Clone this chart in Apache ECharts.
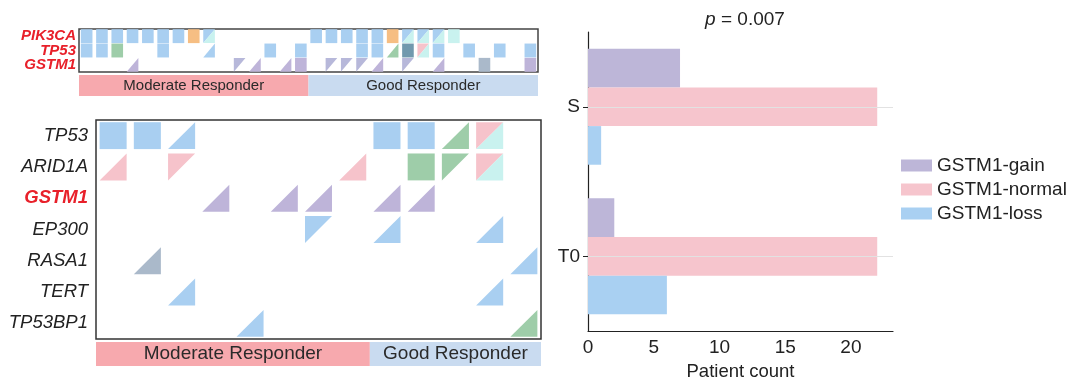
<!DOCTYPE html>
<html><head><meta charset="utf-8">
<script src="https://cdn.jsdelivr.net/npm/echarts@6/dist/echarts.min.js"></script>
<style>html,body{margin:0;padding:0;background:#fff}#c{width:1080px;height:386px}</style>
</head><body><div id="c"></div>
<script>
const FONT = '"Liberation Sans", Arial, Helvetica, sans-serif';

// ---------- DATA ----------
const topGenes = ['PIK3CA', 'TP53', 'GSTM1'];
const topSamples = ['1','2','3','4','5','6','7','8','9','10','11','12','13','14','15','16','17','18','19','20','21','22','23','24','25','26','27','28','29','30'];
// [sampleIndex, geneIndex, shape (F full / L lower-right / U upper-left), colour key]
const topCells = [
  [0,0,'F','blue'],[0,1,'F','blue'],
  [1,0,'F','blue'],[1,1,'F','blue'],
  [2,0,'F','blue'],[2,1,'F','green'],
  [3,0,'F','blue'],[3,2,'L','purple'],
  [4,0,'F','blue'],
  [5,0,'F','blue'],[5,1,'F','blue'],
  [6,0,'F','blue'],
  [7,0,'F','orange'],
  [8,0,'U','blue'],[8,0,'L','cyan'],[8,1,'L','blue'],
  [10,2,'U','lavender'],
  [11,2,'L','purple'],
  [12,1,'F','blue'],
  [13,2,'L','purple'],
  [14,1,'F','blue'],[14,2,'F','purple'],
  [15,0,'F','blue'],
  [16,0,'F','blue'],[16,2,'U','lavender'],
  [17,0,'F','blue'],[17,2,'U','lavender'],
  [18,0,'F','blue'],[18,1,'F','blue'],[18,2,'U','lavender'],
  [19,0,'F','blue'],[19,1,'F','blue'],[19,2,'L','purple'],
  [20,0,'F','orange'],[20,1,'L','green'],
  [21,0,'U','blue'],[21,0,'L','cyan'],[21,1,'F','steel'],[21,2,'U','lavender'],
  [22,0,'U','blue'],[22,0,'L','cyan'],[22,1,'U','pink'],[22,1,'L','cyan'],
  [23,0,'U','blue'],[23,0,'L','cyan'],[23,1,'F','blue'],[23,2,'L','purple'],
  [24,0,'F','cyan'],
  [25,1,'F','blue'],
  [26,2,'F','grayblue'],
  [27,1,'F','blue'],
  [29,1,'F','blue'],[29,2,'F','purple']
];
const topGroups = [['Moderate Responder', 0, 15], ['Good Responder', 15, 30]];

const bottomGenes = ['TP53', 'ARID1A', 'GSTM1', 'EP300', 'RASA1', 'TERT', 'TP53BP1'];
const bottomSamples = ['1','2','3','4','5','6','7','8','9','10','11','12','13'];
const bottomCells = [
  [0,0,'F','blue'],[1,0,'F','blue'],[2,0,'L','blue'],[8,0,'F','blue'],[9,0,'F','blue'],[10,0,'L','green'],[11,0,'U','pink'],[11,0,'L','cyan'],
  [0,1,'L','pink'],[2,1,'U','pink'],[7,1,'L','pink'],[9,1,'F','green'],[10,1,'U','green'],[11,1,'U','pink'],[11,1,'L','cyan'],
  [3,2,'L','purple'],[5,2,'L','purple'],[6,2,'L','purple'],[8,2,'L','purple'],[9,2,'L','purple'],
  [6,3,'U','blue'],[8,3,'L','blue'],[11,3,'L','blue'],
  [1,4,'L','grayblue'],[12,4,'L','blue'],
  [2,5,'L','blue'],[11,5,'L','blue'],
  [4,6,'L','blue'],[12,6,'L','green']
];
const bottomGroups = [['Moderate Responder', 0, 8], ['Good Responder', 8, 13]];

const timepoints = ['T0', 'S'];
const gainCounts = [2, 7];
const normalCounts = [22, 22];
const lossCounts = [6, 1];
const xTickValues = [0, 5, 10, 15, 20];

// ---------- STYLE ----------
const COLORS = {
  blue: '#A9CFF1', green: '#9ECDA9', pink: '#F6C3CB', cyan: '#C9F2EF',
  orange: '#F6BE83', purple: '#BEB4D9', lavender: '#B7B8DA', steel: '#7199AE',
  grayblue: '#AAB9CA'
};
const GROUP_COLORS = {'Moderate Responder': '#F7A9AE', 'Good Responder': '#C9DBF0'};
const RED = '#E8202A';

function cellRenderer(cells, wFrac, hFrac) {
  return function (params, api) {
    const cell = cells[params.dataIndex];
    const p = api.coord([api.value(0), api.value(1)]);
    const s = api.size([1, 1]);
    const w = s[0] * wFrac, h = s[1] * hFrac;
    const x0 = p[0] - w / 2, y0 = p[1] - h / 2;
    const fill = COLORS[cell[3]];
    if (cell[2] === 'F') {
      return {type: 'rect', shape: {x: x0, y: y0, width: w, height: h}, style: {fill: fill}};
    }
    const pts = cell[2] === 'L'
      ? [[x0, y0 + h], [x0 + w, y0 + h], [x0 + w, y0]]
      : [[x0, y0], [x0 + w, y0], [x0, y0 + h]];
    return {type: 'polygon', shape: {points: pts}, style: {fill: fill}};
  };
}
function groupRenderer(groups, fontSize) {
  return function (params, api) {
    const g = groups[params.dataIndex];
    const a = api.coord([api.value(0), 1]);
    const b = api.coord([api.value(1), 0]);
    return {type: 'group', children: [
      {type: 'rect', shape: {x: a[0], y: a[1], width: b[0] - a[0], height: b[1] - a[1]}, style: {fill: GROUP_COLORS[g[0]]}},
      {type: 'text', style: {text: g[0], x: (a[0] + b[0]) / 2, y: (a[1] + b[1]) / 2, align: 'center', verticalAlign: 'middle',
        fontSize: fontSize, fontFamily: FONT, fill: '#2a2a2a'}}
    ]};
  };
}

const chart = echarts.init(document.getElementById('c'), null, {renderer: 'canvas'});
const option = {
  animation: false,
  textStyle: {fontFamily: FONT},
  title: {
    text: '{i|p} = 0.007', left: 740, top: 5, textAlign: 'center',
    textStyle: {fontSize: 19, fontWeight: 'normal', color: '#222', fontFamily: FONT,
      rich: {i: {fontStyle: 'italic', fontSize: 19, color: '#222', fontFamily: FONT}}}
  },
  legend: {
    data: ['GSTM1-gain', 'GSTM1-normal', 'GSTM1-loss'], orient: 'vertical', left: 896, top: 150,
    icon: 'rect', itemWidth: 31, itemHeight: 12, itemGap: 3,
    textStyle: {fontSize: 19, color: '#222', fontFamily: FONT, lineHeight: 21}
  },
  grid: [
    {left: 79, top: 29, width: 459, height: 43, show: true, borderColor: '#444', borderWidth: 1.5, backgroundColor: 'rgba(0,0,0,0)'},
    {left: 79, top: 75, width: 459, height: 21},
    {left: 96, top: 120, width: 445, height: 219, show: true, borderColor: '#333', borderWidth: 1.5, backgroundColor: 'rgba(0,0,0,0)'},
    {left: 96, top: 342, width: 445, height: 24},
    {left: 588, top: 32, width: 305, height: 303}
  ],
  xAxis: [
    {gridIndex: 0, type: 'category', data: topSamples, show: false},
    {gridIndex: 1, type: 'value', min: 0, max: 30, show: false},
    {gridIndex: 2, type: 'category', data: bottomSamples, show: false},
    {gridIndex: 3, type: 'value', min: 0, max: 13, show: false},
    {gridIndex: 4, type: 'value', min: 0, max: 23.2, interval: 5,
      axisLine: {show: true, lineStyle: {color: '#222', width: 1.2}},
      axisTick: {show: false}, splitLine: {show: false},
      axisLabel: {fontSize: 19, color: '#222', margin: 7, fontFamily: FONT,
        formatter: function (v) { return xTickValues.indexOf(v) >= 0 ? String(v) : ''; }},
      name: 'Patient count', nameLocation: 'middle', nameGap: 27,
      nameTextStyle: {fontSize: 18.5, color: '#222', fontFamily: FONT}}
  ],
  yAxis: [
    {gridIndex: 0, type: 'category', data: topGenes, inverse: true,
      axisLine: {show: false}, axisTick: {show: false},
      axisLabel: {interval: 0, margin: 3, fontSize: 15, fontStyle: 'italic', fontWeight: 'bold', color: RED, fontFamily: FONT}},
    {gridIndex: 1, type: 'value', min: 0, max: 1, show: false},
    {gridIndex: 2, type: 'category', data: bottomGenes, inverse: true,
      axisLine: {show: false}, axisTick: {show: false},
      axisLabel: {interval: 0, margin: 8, fontSize: 18.5, fontStyle: 'italic', color: '#222', fontFamily: FONT,
        formatter: function (v) { return v === 'GSTM1' ? '{h|' + v + '}' : '{n|' + v + '}'; },
        rich: {
          h: {color: RED, fontWeight: 'bold', fontStyle: 'italic', fontSize: 18.5, fontFamily: FONT},
          n: {color: '#222', fontStyle: 'italic', fontSize: 18.5, fontFamily: FONT}
        }}},
    {gridIndex: 3, type: 'value', min: 0, max: 1, show: false},
    {gridIndex: 4, type: 'category', data: timepoints,
      axisLine: {show: true, lineStyle: {color: '#222', width: 1.2}},
      axisTick: {show: true, alignWithLabel: true, length: 5, lineStyle: {color: '#222'}},
      axisLabel: {fontSize: 19, color: '#222', margin: 8, fontFamily: FONT},
      splitLine: {show: false}}
  ],
  series: [
    {type: 'custom', xAxisIndex: 0, yAxisIndex: 0, silent: true,
      data: topCells.map(function (d) { return [d[0], d[1]]; }),
      encode: {x: 0, y: 1}, renderItem: cellRenderer(topCells, 0.76, 0.97)},
    {type: 'custom', xAxisIndex: 1, yAxisIndex: 1, silent: true,
      data: topGroups.map(function (g) { return [g[1], g[2]]; }),
      encode: {x: [0, 1]}, renderItem: groupRenderer(topGroups, 15)},
    {type: 'custom', xAxisIndex: 2, yAxisIndex: 2, silent: true,
      data: bottomCells.map(function (d) { return [d[0], d[1]]; }),
      encode: {x: 0, y: 1}, renderItem: cellRenderer(bottomCells, 0.79, 0.86)},
    {type: 'custom', xAxisIndex: 3, yAxisIndex: 3, silent: true,
      data: bottomGroups.map(function (g) { return [g[1], g[2]]; }),
      encode: {x: [0, 1]}, renderItem: groupRenderer(bottomGroups, 19)},
    {type: 'line', xAxisIndex: 4, yAxisIndex: 4, data: [], z: 1, silent: true,
      markLine: {silent: true, symbol: 'none', label: {show: false}, animation: false,
        lineStyle: {color: '#e2e2e2', width: 1, type: 'solid'},
        data: [{yAxis: 'S'}, {yAxis: 'T0'}]}},
    {type: 'bar', name: 'GSTM1-gain', xAxisIndex: 4, yAxisIndex: 4, data: gainCounts, z: 2,
      itemStyle: {color: '#BDB6D8'}, barGap: '0%', barCategoryGap: '22.5%'},
    {type: 'bar', name: 'GSTM1-normal', xAxisIndex: 4, yAxisIndex: 4, data: normalCounts, z: 2,
      itemStyle: {color: '#F6C5CD'}, barGap: '0%', barCategoryGap: '22.5%'},
    {type: 'bar', name: 'GSTM1-loss', xAxisIndex: 4, yAxisIndex: 4, data: lossCounts, z: 2,
      itemStyle: {color: '#A9D0F2'}, barGap: '0%', barCategoryGap: '22.5%'}
  ]
};
chart.setOption(option);
</script></body></html>
